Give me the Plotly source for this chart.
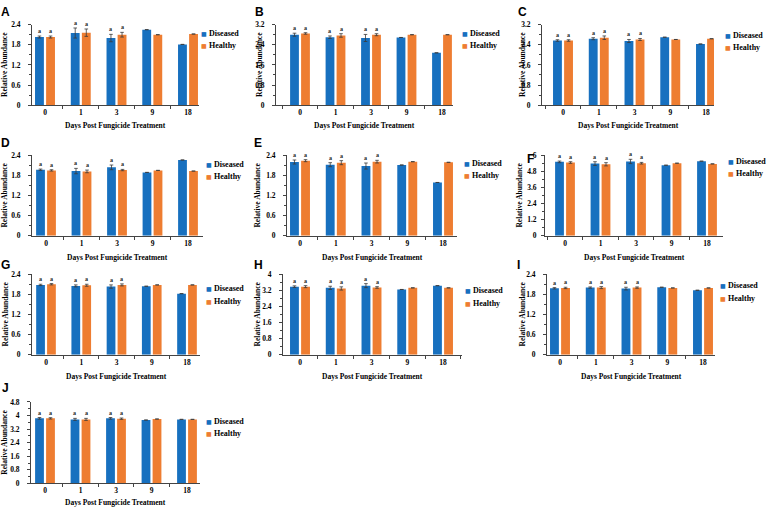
import plotly.graph_objects as go

W, H = 766, 512
BLUE = "#1770BF"
ORANGE = "#EE7D31"
SERIF = "Liberation Serif"
SANS = "Liberation Sans"

days = ["0", "1", "3", "9", "18"]
letters = ["a", "a", "a", "", ""]

# relative abundance per panel
a_diseased = [2.03, 2.15, 2.00, 2.25, 1.81]
a_healthy = [2.03, 2.16, 2.10, 2.10, 2.12]
a_diseased_err = [0.03, 0.15, 0.11, None, None]
a_healthy_err = [0.03, 0.11, 0.07, None, None]

b_diseased = [2.80, 2.70, 2.67, 2.69, 2.08]
b_healthy = [2.85, 2.77, 2.80, 2.80, 2.80]
b_diseased_err = [0.06, 0.05, 0.14, None, None]
b_healthy_err = [0.03, 0.07, 0.04, None, None]

c_diseased = [2.57, 2.64, 2.55, 2.70, 2.43]
c_healthy = [2.57, 2.68, 2.61, 2.61, 2.64]
c_diseased_err = [0.03, 0.04, 0.06, None, None]
c_healthy_err = [0.03, 0.07, 0.04, None, None]

d_diseased = [1.97, 1.93, 2.04, 1.89, 2.26]
d_healthy = [1.95, 1.92, 1.96, 1.95, 1.93]
d_diseased_err = [0.02, 0.08, 0.07, None, None]
d_healthy_err = [0.02, 0.04, 0.02, None, None]

e_diseased = [2.20, 2.12, 2.08, 2.11, 1.59]
e_healthy = [2.24, 2.18, 2.21, 2.21, 2.19]
e_diseased_err = [0.06, 0.06, 0.09, None, None]
e_healthy_err = [0.03, 0.06, 0.04, None, None]

f_diseased = [5.51, 5.38, 5.54, 5.26, 5.56]
f_healthy = [5.46, 5.33, 5.41, 5.41, 5.36]
f_diseased_err = [0.06, 0.14, 0.16, None, None]
f_healthy_err = [0.06, 0.12, 0.06, None, None]

g_diseased = [2.08, 2.05, 2.03, 2.04, 1.82]
g_healthy = [2.10, 2.07, 2.08, 2.08, 2.08]
g_diseased_err = [0.02, 0.03, 0.05, None, None]
g_healthy_err = [0.02, 0.03, 0.03, None, None]

h_diseased = [3.38, 3.32, 3.43, 3.24, 3.43]
h_healthy = [3.38, 3.29, 3.34, 3.32, 3.32]
h_diseased_err = [0.04, 0.08, 0.10, None, None]
h_healthy_err = [0.05, 0.08, 0.04, None, None]

i_diseased = [1.98, 2.00, 1.97, 2.01, 1.92]
i_healthy = [1.99, 2.00, 2.00, 1.99, 1.99]
i_diseased_err = [0.02, 0.02, 0.04, None, None]
i_healthy_err = [0.02, 0.03, 0.02, None, None]

j_diseased = [3.83, 3.77, 3.83, 3.73, 3.77]
j_healthy = [3.83, 3.77, 3.81, 3.79, 3.77]
j_diseased_err = [0.05, 0.06, 0.05, None, None]
j_healthy_err = [0.04, 0.06, 0.04, None, None]

# name, series, y max, y step
panels = [
    ("A", a_diseased, a_healthy, a_diseased_err, a_healthy_err, 2.4, 0.6),
    ("B", b_diseased, b_healthy, b_diseased_err, b_healthy_err, 3.2, 0.8),
    ("C", c_diseased, c_healthy, c_diseased_err, c_healthy_err, 3.2, 0.8),
    ("D", d_diseased, d_healthy, d_diseased_err, d_healthy_err, 2.4, 0.6),
    ("E", e_diseased, e_healthy, e_diseased_err, e_healthy_err, 2.4, 0.6),
    ("F", f_diseased, f_healthy, f_diseased_err, f_healthy_err, 6, 1.2),
    ("G", g_diseased, g_healthy, g_diseased_err, g_healthy_err, 2.4, 0.6),
    ("H", h_diseased, h_healthy, h_diseased_err, h_healthy_err, 4, 0.8),
    ("I", i_diseased, i_healthy, i_diseased_err, i_healthy_err, 2.4, 0.6),
    ("J", j_diseased, j_healthy, j_diseased_err, j_healthy_err, 4.8, 0.8),
]

# pixel geometry per panel:
# axis box, first/last category centre, panel letter, legend, axis title positions
frames = [
    dict(x0=32, x1=199, top=21, bot=103, c0=45, c18=188, lab=(6, 8), leg=(204, 30), yt=5, xt=124),
    dict(x0=276, x1=453, top=21, bot=103, c0=300, c18=442, lab=(259, 8), leg=(465, 30), yt=260, xt=124),
    dict(x0=542, x1=714, top=21, bot=103, c0=563, c18=706, lab=(522, 8), leg=(728, 32), yt=523, xt=124),
    dict(x0=32, x1=203, top=154, bot=236, c0=46, c18=188, lab=(5, 141), leg=(209, 163), yt=5, xt=258),
    dict(x0=287, x1=457, top=154, bot=236, c0=300, c18=443, lab=(258, 141), leg=(467, 162), yt=258, xt=258),
    dict(x0=545, x1=723, top=154, bot=236, c0=565, c18=707, lab=(530, 158), leg=(731, 160), yt=520, xt=258),
    dict(x0=32, x1=200, top=275, bot=357, c0=46, c18=187, lab=(5, 266), leg=(209, 290), yt=5, xt=379),
    dict(x0=283, x1=462, top=275, bot=357, c0=300, c18=443, lab=(258, 266), leg=(468, 292), yt=257, xt=379),
    dict(x0=547, x1=715, top=275, bot=357, c0=560, c18=703, lab=(518, 266), leg=(723, 287), yt=522, xt=379),
    dict(x0=31, x1=200, top=405, bot=488, c0=45, c18=187, lab=(5, 391), leg=(209, 425), yt=5, xt=507),
]


def fx(px):
    return px / W


def fy(py):
    return 1 - py / H


fig = go.Figure()
annotations = []

for k, (name, dis, hea, dis_err, hea_err, ymax, ystep) in enumerate(panels):
    fr = frames[k]
    suffix = "" if k == 0 else str(k + 1)
    xref, yref = "x" + suffix, "y" + suffix

    for vals, errs, color, label in [(dis, dis_err, BLUE, "Diseased"), (hea, hea_err, ORANGE, "Healthy")]:
        fig.add_trace(go.Bar(
            x=days, y=vals, name=label, marker_color=color, marker_line_width=0,
            error_y=dict(type="data", array=errs, color="#3a3a3a", thickness=0.8, width=1.8),
            xaxis=xref, yaxis=yref, showlegend=False,
        ))

    cat = (fr["c18"] - fr["c0"]) / 4
    r0 = -(fr["c0"] - fr["x0"]) / cat
    r1 = 4 + (fr["x1"] - fr["c18"]) / cat

    axis_font = dict(family=SERIF, size=7.5, color="black", weight="bold")
    fig.layout["xaxis" + suffix] = dict(
        domain=[fx(fr["x0"]), fx(fr["x1"])], anchor=yref, type="category",
        range=[r0, r1], showline=True, linecolor="#444", linewidth=1,
        ticks="outside", tickson="boundaries", ticklen=3, tickcolor="#444",
        tickfont=axis_font, showgrid=False, zeroline=False, fixedrange=True,
    )
    fig.layout["yaxis" + suffix] = dict(
        domain=[fy(fr["bot"]), fy(fr["top"])], anchor=xref,
        range=[0, ymax], dtick=ystep, tick0=0, showline=True, linecolor="#444",
        linewidth=1, ticks="outside", ticklen=3, tickcolor="#444",
        minor=dict(ticks="outside", ticklen=2, dtick=ystep / 2, tickcolor="#444"),
        tickfont=axis_font, ticklabelstandoff=6 if name != "F" else 3,
        showgrid=False, zeroline=False,
    )

    # significance letters above error bars (category index positions)
    shift = 0.155 * cat
    for vals, errs, sgn in [(dis, dis_err, -1), (hea, hea_err, 1)]:
        for idx, (v, e, t) in enumerate(zip(vals, errs, letters)):
            if not t:
                continue
            annotations.append(dict(
                xref=xref, yref=yref, x=idx, y=v + (e or 0), xshift=sgn * shift, yshift=0,
                text="<b>%s</b>" % t, showarrow=False, yanchor="bottom",
                font=dict(family=SERIF, size=6, color="#222"),
            ))

    # panel letter
    annotations.append(dict(
        xref="paper", yref="paper", x=fx(fr["lab"][0]), y=fy(fr["lab"][1]),
        text="<b>%s</b>" % name, showarrow=False, xanchor="center", yanchor="middle",
        font=dict(family=SANS, size=12, color="black"),
    ))
    # axis titles
    annotations.append(dict(
        xref="paper", yref="paper", x=fx((fr["x0"] + fr["x1"]) / 2), y=fy(fr["xt"]),
        text="<b>Days Post Fungicide Treatment</b>", showarrow=False,
        xanchor="center", yanchor="middle", font=dict(family=SERIF, size=7.5, color="black"),
    ))
    annotations.append(dict(
        xref="paper", yref="paper", x=fx(fr["yt"]), y=fy((fr["top"] + fr["bot"]) / 2),
        text="<b>Relative Abundance</b>", showarrow=False, textangle=-90,
        xanchor="center", yanchor="middle", font=dict(family=SERIF, size=7.5, color="black"),
    ))
    # legend: small coloured square + label
    lx, ly = fr["leg"]
    for j, (label, color) in enumerate([("Diseased", BLUE), ("Healthy", ORANGE)]):
        yy = fy(ly + 12.5 * j)
        annotations.append(dict(
            xref="paper", yref="paper", x=fx(lx), y=yy, text="■",
            showarrow=False, xanchor="center", yanchor="middle",
            font=dict(family="DejaVu Sans", size=6, color=color),
        ))
        annotations.append(dict(
            xref="paper", yref="paper", x=fx(lx + 3), y=yy, text="<b>%s</b>" % label,
            showarrow=False, xanchor="left", yanchor="middle",
            font=dict(family=SERIF, size=8, color="black"),
        ))

fig.update_layout(
    width=W, height=H, margin=dict(l=0, r=0, t=0, b=0),
    paper_bgcolor="white", plot_bgcolor="white",
    barmode="group", bargap=0.38, bargroupgap=0.2,
    annotations=annotations, showlegend=False,
)

# the page body has a default 8px margin; drop it so the figure fills the window
fig.write_html(
    "out.html",
    config={"displayModeBar": False},
    post_script="document.body.style.margin = '0';",
)
